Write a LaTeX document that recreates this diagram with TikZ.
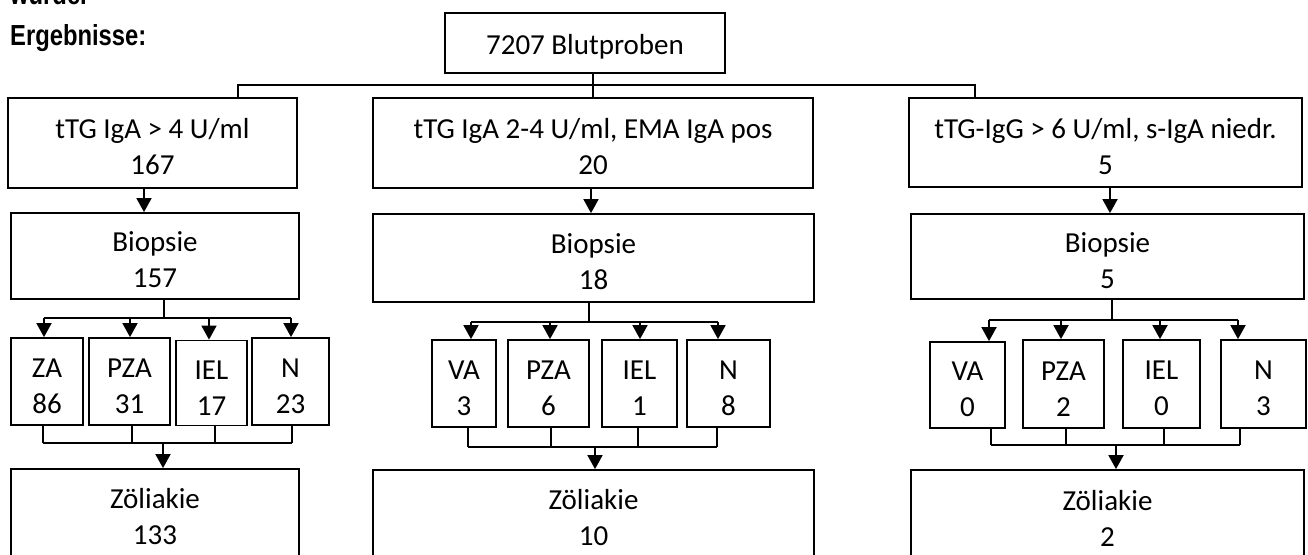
\documentclass[tikz,border=0pt]{standalone}
\usepackage{fontspec}
\setmainfont{Carlito}
\newfontfamily\narrowfont[FakeStretch=0.82]{Liberation Sans}
\usetikzlibrary{arrows.meta}
\newcommand{\fl}{\rule{0pt}{28pt}}
\tikzset{
  box/.style={draw, line width=1.8pt, inner sep=0pt, align=center,
    font=\fontsize{29}{36}\selectfont},
  conn/.style={line width=1.8pt},
  arr/.style={line width=1.8pt, -{Triangle[width=15pt,length=14pt]}},
  plain/.style={inner sep=0pt, font=\narrowfont\bfseries\fontsize{29}{34}\selectfont}
}
\begin{document}
\begin{tikzpicture}[x=1pt,y=-1pt]
\useasboundingbox (0,0) rectangle (1308,554);
\clip (0,0) rectangle (1308,554);

% header text
\node[plain, anchor=base west] (wurde) at (10,5) {wurde.};
\node[plain, anchor=base west] (erg) at (10,45) {Ergebnisse:};

% top
\node[box, minimum width=280pt, minimum height=60pt] (top) at (585,43) {\fl 7207 Blutproben};

% level 1
\node[box, minimum width=289pt, minimum height=90pt] (t1) at (152.5,143) {\fl tTG IgA > 4 U/ml\\167};
\node[box, minimum width=440pt, minimum height=90pt] (t2) at (593,143) {\fl tTG IgA 2-4 U/ml, EMA IgA pos\\20};
\node[box, minimum width=393pt, minimum height=89pt] (t3) at (1105.5,142.5) {\fl tTG-IgG > 6 U/ml, s-IgA niedr.\\5};

% biopsies
\node[box, minimum width=288pt, minimum height=86pt] (b1) at (155,256) {\fl Biopsie\\157};
\node[box, minimum width=441pt, minimum height=88pt] (b2) at (593.5,258) {\fl Biopsie\\18};
\node[box, minimum width=393pt, minimum height=85pt] (b3) at (1107.5,256.5) {\fl Biopsie\\5};

% small boxes group 1
\node[box, minimum width=72pt, minimum height=87pt] (za1) at (47,381.5) {\fl ZA\\86};
\node[box, minimum width=81pt, minimum height=87pt] (pza1) at (129.5,381.5) {\fl PZA\\31};
\node[box, minimum width=71pt, minimum height=85pt] (iel1) at (211.5,383) {\fl IEL\\17};
\node[box, minimum width=77pt, minimum height=87pt] (n1) at (290.5,381.5) {\fl N\\23};

% small boxes group 2
\node[box, minimum width=64pt, minimum height=87pt] (va2) at (464,383.5) {\fl VA\\3};
\node[box, minimum width=81pt, minimum height=87pt] (pza2) at (548.5,383.5) {\fl PZA\\6};
\node[box, minimum width=75pt, minimum height=87pt] (iel2) at (639.5,383.5) {\fl IEL\\1};
\node[box, minimum width=83pt, minimum height=87pt] (n2) at (728.5,383.5) {\fl N\\8};

% small boxes group 3
\node[box, minimum width=75pt, minimum height=86pt] (va3) at (967.5,385) {\fl VA\\0};
\node[box, minimum width=81pt, minimum height=88pt] (pza3) at (1063.5,384) {\fl PZA\\2};
\node[box, minimum width=77pt, minimum height=88pt] (iel3) at (1161.5,384) {\fl IEL\\0};
\node[box, minimum width=85pt, minimum height=88pt] (n3) at (1263.5,384) {\fl N\\3};

% results
\node[box, minimum width=288pt, minimum height=88pt] (z1) at (155,513) {\fl Zöliakie\\133};
\node[box, minimum width=441pt, minimum height=88pt] (z2) at (593.5,514) {\fl Zöliakie\\10};
\node[box, minimum width=393pt, minimum height=88pt] (z3) at (1107.5,514) {\fl Zöliakie\\2};

% top bus
\coordinate (busL) at (238,85);
\coordinate (busR) at (975,85);
\draw[conn] (top.south -| t2.north) -- (t2.north);
\draw[conn] (busL |- t1.north) -- (busL) -- (busR) -- (busR |- t3.north);

% level1 -> biopsy
\coordinate (a1) at (144,0);
\coordinate (a2) at (591,0);
\coordinate (a3) at (1110,0);
\draw[arr] (t1.south -| a1) -- (b1.north -| a1);
\draw[arr] (t2.south -| a2) -- (b2.north -| a2);
\draw[arr] (t3.south -| a3) -- (b3.north -| a3);

% group 1 distribution
\coordinate (j1) at (164,318);
\coordinate (l1) at (44,318);
\coordinate (r1) at (291,318);
\draw[conn] (b1.south -| j1) -- (j1);
\draw[conn] (l1) -- (r1);
\foreach \n/\x in {za1/44, pza1/130, iel1/209, n1/291}{
  \coordinate (p) at (\x,318);
  \draw[arr] (p) -- (p |- \n.north);
}
\foreach \n/\x in {za1/43, pza1/132, iel1/215, n1/292}{
  \coordinate (q) at (\x,443);
  \draw[conn] (q |- \n.south) -- (q);
}
\coordinate (lb1) at (43,443);
\coordinate (rb1) at (292,443);
\coordinate (c1) at (163,443);
\draw[conn] (lb1) -- (rb1);
\draw[arr] (c1) -- (c1 |- z1.north);

% group 2 distribution
\coordinate (j2) at (589,322);
\coordinate (l2) at (471,322);
\coordinate (r2) at (718,322);
\draw[conn] (b2.south -| j2) -- (j2);
\draw[conn] (l2) -- (r2);
\foreach \n/\x in {va2/471, pza2/550, iel2/640, n2/718}{
  \coordinate (p) at (\x,322);
  \draw[arr] (p) -- (p |- \n.north);
}
\foreach \n/\x in {va2/468, pza2/551, iel2/638, n2/717}{
  \coordinate (q) at (\x,447);
  \draw[conn] (q |- \n.south) -- (q);
}
\coordinate (lb2) at (468,447);
\coordinate (rb2) at (717,447);
\coordinate (c2) at (595,447);
\draw[conn] (lb2) -- (rb2);
\draw[arr] (c2) -- (c2 |- z2.north);

% group 3 distribution
\coordinate (j3) at (1112,320);
\coordinate (l3) at (989,320);
\coordinate (r3) at (1238,320);
\draw[conn] (b3.south -| j3) -- (j3);
\draw[conn] (l3) -- (r3);
\foreach \n/\x in {va3/989, pza3/1061, iel3/1160, n3/1238}{
  \coordinate (p) at (\x,320);
  \draw[arr] (p) -- (p |- \n.north);
}
\foreach \n/\x in {va3/991, pza3/1066, iel3/1164, n3/1240}{
  \coordinate (q) at (\x,445);
  \draw[conn] (q |- \n.south) -- (q);
}
\coordinate (lb3) at (991,445);
\coordinate (rb3) at (1240,445);
\coordinate (c3) at (1116,445);
\draw[conn] (lb3) -- (rb3);
\draw[arr] (c3) -- (c3 |- z3.north);
\end{tikzpicture}
\end{document}
